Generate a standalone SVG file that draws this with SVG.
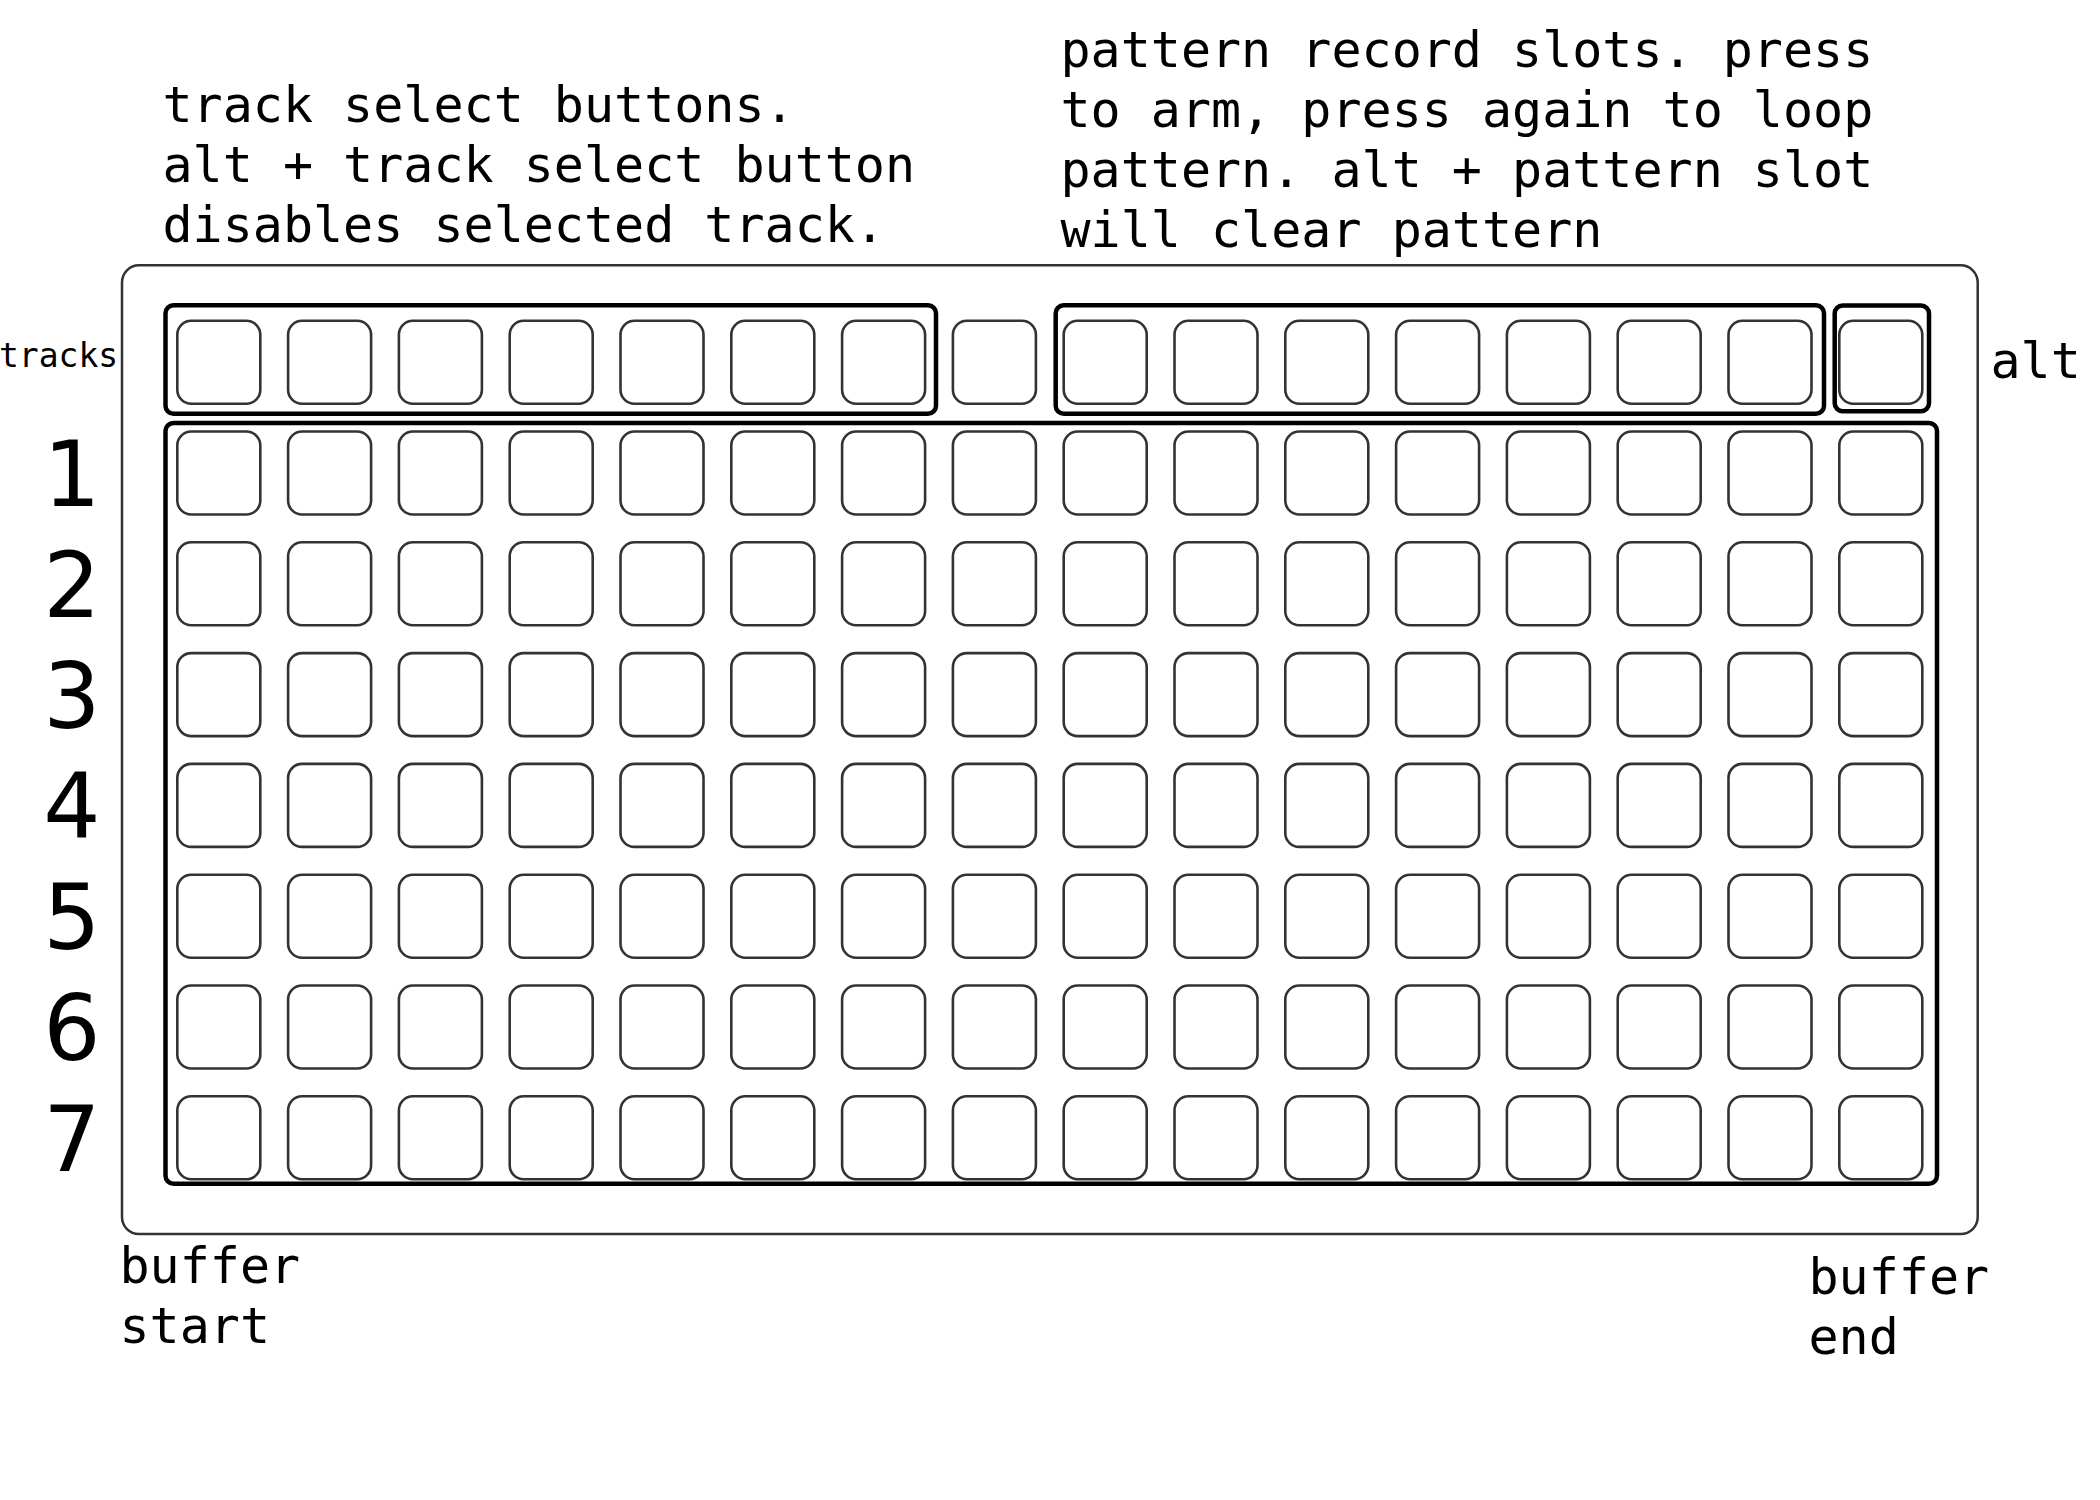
<svg xmlns="http://www.w3.org/2000/svg" xmlns:xlink="http://www.w3.org/1999/xlink" width="2100" height="1500" viewBox="0 0 2100 1500">
<defs>
<style>
.bg{fill:#ffffff}
.frame{fill:none;stroke:#333333;stroke-width:2.5}
.grp{fill:none;stroke:#000000;stroke-width:4.5}
.pad{fill:none;stroke:#333333;stroke-width:2.6}
.mono{font-family:"DejaVu Sans Mono","Liberation Mono",monospace;fill:#000000}
.lbl{font-size:50px}
.small{font-size:33px}
.num{font-family:"DejaVu Sans","Liberation Sans",sans-serif;font-size:90px;fill:#000000;text-anchor:middle}
</style>
<rect id="p" width="83" height="83" rx="14" ry="14" class="pad"/>
</defs>
<rect class="bg" x="0" y="0" width="2100" height="1500"/>
<g id="device">
<rect class="frame" x="122" y="265.3" width="1855.7" height="968.7" rx="17" ry="17"/>
</g>
<g id="track-select-group">
<rect class="grp" x="165.5" y="305.3" width="770.5" height="108.4" rx="8" ry="8"/>
<use xlink:href="#p" x="177.3" y="320.7"/>
<use xlink:href="#p" x="288.1" y="320.7"/>
<use xlink:href="#p" x="398.9" y="320.7"/>
<use xlink:href="#p" x="509.7" y="320.7"/>
<use xlink:href="#p" x="620.5" y="320.7"/>
<use xlink:href="#p" x="731.3" y="320.7"/>
<use xlink:href="#p" x="842.1" y="320.7"/>
</g>
<g id="top-middle-pad">
<use xlink:href="#p" x="952.9" y="320.7"/>
</g>
<g id="pattern-slots-group">
<rect class="grp" x="1055.7" y="305.3" width="768.3" height="108.4" rx="8" ry="8"/>
<use xlink:href="#p" x="1063.7" y="320.7"/>
<use xlink:href="#p" x="1174.5" y="320.7"/>
<use xlink:href="#p" x="1285.3" y="320.7"/>
<use xlink:href="#p" x="1396.1" y="320.7"/>
<use xlink:href="#p" x="1506.9" y="320.7"/>
<use xlink:href="#p" x="1617.7" y="320.7"/>
<use xlink:href="#p" x="1728.5" y="320.7"/>
</g>
<g id="alt-group">
<rect class="grp" x="1834.7" y="305.5" width="94.3" height="105.8" rx="8" ry="8"/>
<use xlink:href="#p" x="1839.3" y="320.7"/>
</g>
<g id="track-grid">
<rect class="grp" x="165.5" y="423" width="1771.5" height="760.7" rx="8" ry="8"/>
<g id="grid-row-1">
<use xlink:href="#p" x="177.3" y="431.5"/><use xlink:href="#p" x="288.1" y="431.5"/><use xlink:href="#p" x="398.9" y="431.5"/><use xlink:href="#p" x="509.7" y="431.5"/><use xlink:href="#p" x="620.5" y="431.5"/><use xlink:href="#p" x="731.3" y="431.5"/><use xlink:href="#p" x="842.1" y="431.5"/><use xlink:href="#p" x="952.9" y="431.5"/><use xlink:href="#p" x="1063.7" y="431.5"/><use xlink:href="#p" x="1174.5" y="431.5"/><use xlink:href="#p" x="1285.3" y="431.5"/><use xlink:href="#p" x="1396.1" y="431.5"/><use xlink:href="#p" x="1506.9" y="431.5"/><use xlink:href="#p" x="1617.7" y="431.5"/><use xlink:href="#p" x="1728.5" y="431.5"/><use xlink:href="#p" x="1839.3" y="431.5"/>
</g>
<g id="grid-row-2">
<use xlink:href="#p" x="177.3" y="542.3"/><use xlink:href="#p" x="288.1" y="542.3"/><use xlink:href="#p" x="398.9" y="542.3"/><use xlink:href="#p" x="509.7" y="542.3"/><use xlink:href="#p" x="620.5" y="542.3"/><use xlink:href="#p" x="731.3" y="542.3"/><use xlink:href="#p" x="842.1" y="542.3"/><use xlink:href="#p" x="952.9" y="542.3"/><use xlink:href="#p" x="1063.7" y="542.3"/><use xlink:href="#p" x="1174.5" y="542.3"/><use xlink:href="#p" x="1285.3" y="542.3"/><use xlink:href="#p" x="1396.1" y="542.3"/><use xlink:href="#p" x="1506.9" y="542.3"/><use xlink:href="#p" x="1617.7" y="542.3"/><use xlink:href="#p" x="1728.5" y="542.3"/><use xlink:href="#p" x="1839.3" y="542.3"/>
</g>
<g id="grid-row-3">
<use xlink:href="#p" x="177.3" y="653.1"/><use xlink:href="#p" x="288.1" y="653.1"/><use xlink:href="#p" x="398.9" y="653.1"/><use xlink:href="#p" x="509.7" y="653.1"/><use xlink:href="#p" x="620.5" y="653.1"/><use xlink:href="#p" x="731.3" y="653.1"/><use xlink:href="#p" x="842.1" y="653.1"/><use xlink:href="#p" x="952.9" y="653.1"/><use xlink:href="#p" x="1063.7" y="653.1"/><use xlink:href="#p" x="1174.5" y="653.1"/><use xlink:href="#p" x="1285.3" y="653.1"/><use xlink:href="#p" x="1396.1" y="653.1"/><use xlink:href="#p" x="1506.9" y="653.1"/><use xlink:href="#p" x="1617.7" y="653.1"/><use xlink:href="#p" x="1728.5" y="653.1"/><use xlink:href="#p" x="1839.3" y="653.1"/>
</g>
<g id="grid-row-4">
<use xlink:href="#p" x="177.3" y="763.9"/><use xlink:href="#p" x="288.1" y="763.9"/><use xlink:href="#p" x="398.9" y="763.9"/><use xlink:href="#p" x="509.7" y="763.9"/><use xlink:href="#p" x="620.5" y="763.9"/><use xlink:href="#p" x="731.3" y="763.9"/><use xlink:href="#p" x="842.1" y="763.9"/><use xlink:href="#p" x="952.9" y="763.9"/><use xlink:href="#p" x="1063.7" y="763.9"/><use xlink:href="#p" x="1174.5" y="763.9"/><use xlink:href="#p" x="1285.3" y="763.9"/><use xlink:href="#p" x="1396.1" y="763.9"/><use xlink:href="#p" x="1506.9" y="763.9"/><use xlink:href="#p" x="1617.7" y="763.9"/><use xlink:href="#p" x="1728.5" y="763.9"/><use xlink:href="#p" x="1839.3" y="763.9"/>
</g>
<g id="grid-row-5">
<use xlink:href="#p" x="177.3" y="874.7"/><use xlink:href="#p" x="288.1" y="874.7"/><use xlink:href="#p" x="398.9" y="874.7"/><use xlink:href="#p" x="509.7" y="874.7"/><use xlink:href="#p" x="620.5" y="874.7"/><use xlink:href="#p" x="731.3" y="874.7"/><use xlink:href="#p" x="842.1" y="874.7"/><use xlink:href="#p" x="952.9" y="874.7"/><use xlink:href="#p" x="1063.7" y="874.7"/><use xlink:href="#p" x="1174.5" y="874.7"/><use xlink:href="#p" x="1285.3" y="874.7"/><use xlink:href="#p" x="1396.1" y="874.7"/><use xlink:href="#p" x="1506.9" y="874.7"/><use xlink:href="#p" x="1617.7" y="874.7"/><use xlink:href="#p" x="1728.5" y="874.7"/><use xlink:href="#p" x="1839.3" y="874.7"/>
</g>
<g id="grid-row-6">
<use xlink:href="#p" x="177.3" y="985.5"/><use xlink:href="#p" x="288.1" y="985.5"/><use xlink:href="#p" x="398.9" y="985.5"/><use xlink:href="#p" x="509.7" y="985.5"/><use xlink:href="#p" x="620.5" y="985.5"/><use xlink:href="#p" x="731.3" y="985.5"/><use xlink:href="#p" x="842.1" y="985.5"/><use xlink:href="#p" x="952.9" y="985.5"/><use xlink:href="#p" x="1063.7" y="985.5"/><use xlink:href="#p" x="1174.5" y="985.5"/><use xlink:href="#p" x="1285.3" y="985.5"/><use xlink:href="#p" x="1396.1" y="985.5"/><use xlink:href="#p" x="1506.9" y="985.5"/><use xlink:href="#p" x="1617.7" y="985.5"/><use xlink:href="#p" x="1728.5" y="985.5"/><use xlink:href="#p" x="1839.3" y="985.5"/>
</g>
<g id="grid-row-7">
<use xlink:href="#p" x="177.3" y="1096.3"/><use xlink:href="#p" x="288.1" y="1096.3"/><use xlink:href="#p" x="398.9" y="1096.3"/><use xlink:href="#p" x="509.7" y="1096.3"/><use xlink:href="#p" x="620.5" y="1096.3"/><use xlink:href="#p" x="731.3" y="1096.3"/><use xlink:href="#p" x="842.1" y="1096.3"/><use xlink:href="#p" x="952.9" y="1096.3"/><use xlink:href="#p" x="1063.7" y="1096.3"/><use xlink:href="#p" x="1174.5" y="1096.3"/><use xlink:href="#p" x="1285.3" y="1096.3"/><use xlink:href="#p" x="1396.1" y="1096.3"/><use xlink:href="#p" x="1506.9" y="1096.3"/><use xlink:href="#p" x="1617.7" y="1096.3"/><use xlink:href="#p" x="1728.5" y="1096.3"/><use xlink:href="#p" x="1839.3" y="1096.3"/>
</g>
</g>
<g id="row-numbers">
<text class="num" x="72" y="506">1</text>
<text class="num" x="72" y="616.8">2</text>
<text class="num" x="72" y="727.6">3</text>
<text class="num" x="72" y="838.4">4</text>
<text class="num" x="72" y="949.2">5</text>
<text class="num" x="72" y="1060">6</text>
<text class="num" x="72" y="1170.8">7</text>
</g>
<g id="labels">
<text class="mono small" x="-1" y="366.7">tracks</text>
<text class="mono lbl" x="1990.5" y="378">alt</text>
<text class="mono lbl" x="162.5" y="121.7">track select buttons.</text>
<text class="mono lbl" x="162.5" y="181.7">alt + track select button</text>
<text class="mono lbl" x="162.5" y="241.7">disables selected track.</text>
<text class="mono lbl" x="1060.5" y="66.7">pattern record slots. press</text>
<text class="mono lbl" x="1060.5" y="126.7">to arm, press again to loop</text>
<text class="mono lbl" x="1060.5" y="186.7">pattern. alt + pattern slot</text>
<text class="mono lbl" x="1060.5" y="246.7">will clear pattern</text>
<text class="mono lbl" x="119.5" y="1283">buffer</text>
<text class="mono lbl" x="119.5" y="1343">start</text>
<text class="mono lbl" x="1808.5" y="1294">buffer</text>
<text class="mono lbl" x="1808.5" y="1354">end</text>
</g>
<g id="connectors"></g>
</svg>
